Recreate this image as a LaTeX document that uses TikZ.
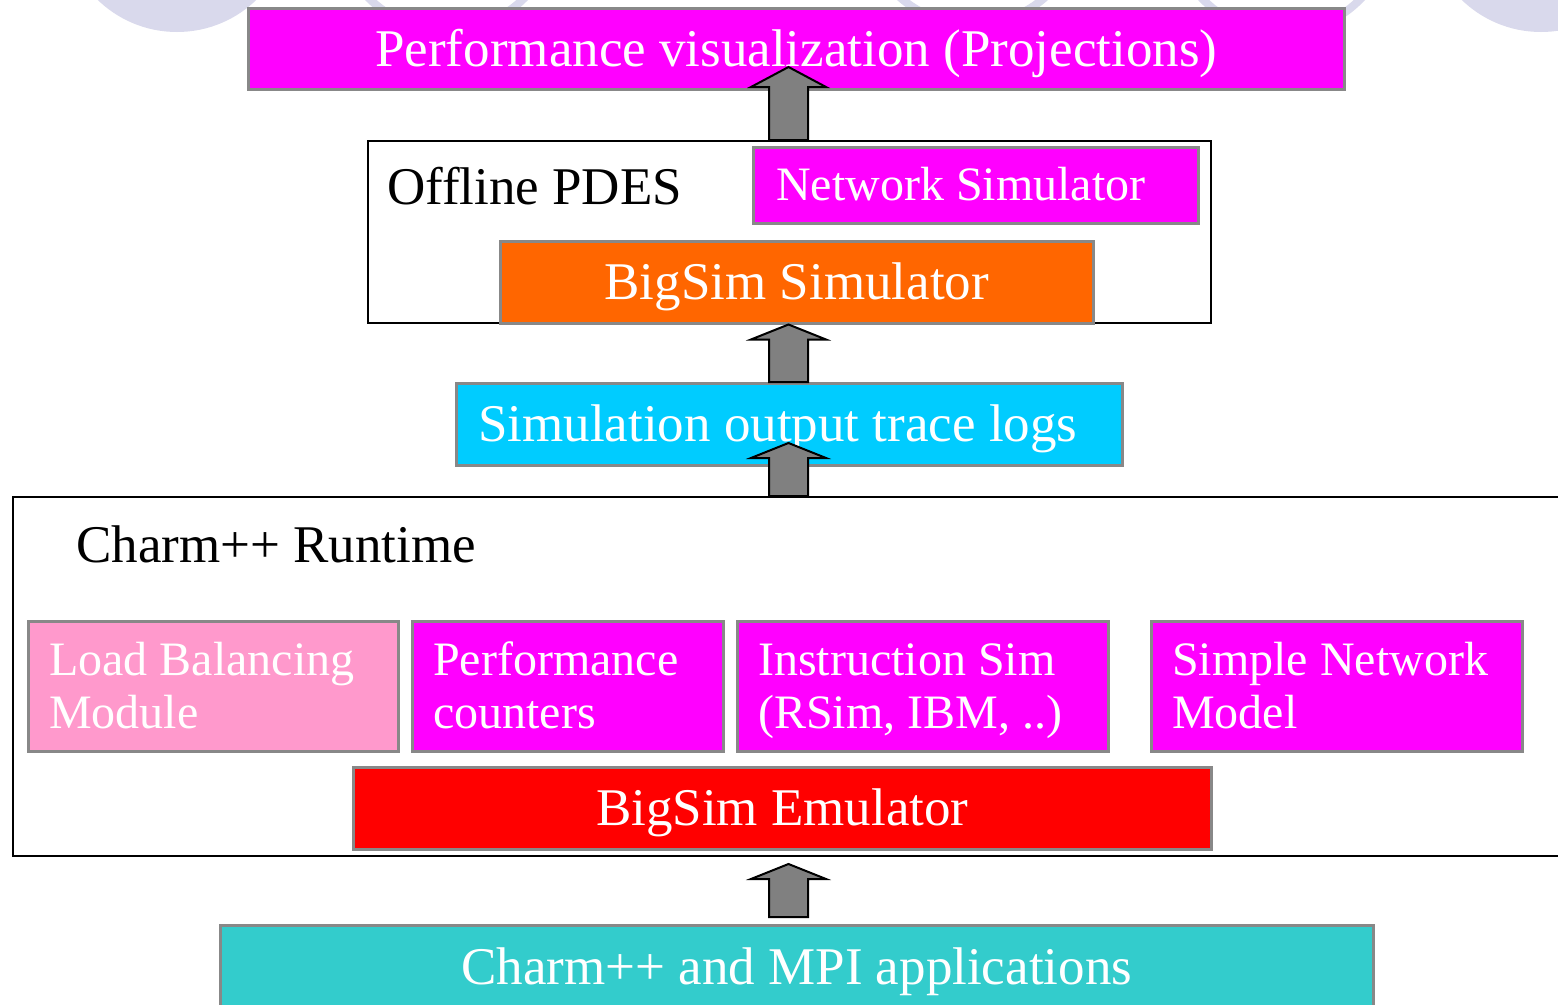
\documentclass[tikz,border=0pt]{standalone}
\usepackage{fontspec}
\setmainfont{Liberation Serif}
\usetikzlibrary{calc}
\definecolor{cmag}{HTML}{FF00FF}
\definecolor{corange}{HTML}{FF6600}
\definecolor{ccyan}{HTML}{00CCFF}
\definecolor{cpink}{HTML}{FF99CC}
\definecolor{cred}{HTML}{FF0000}
\definecolor{cteal}{HTML}{33CCCC}
\definecolor{cborder}{HTML}{888888}
\definecolor{carrow}{HTML}{808080}
\definecolor{clav}{HTML}{D9D9EC}
\newcommand\fbig{\fontsize{53}{58}\selectfont}
\newcommand\fsmall{\fontsize{48}{53}\selectfont}
\newcommand\blockarr[3]{%
  \draw[blockarr] ($(#1)+(-19.5,0)$) -- ($(#2)+(-19.5,-#3)$) -- ($(#2)+(-37.5,-#3)$) -- (#2)
    -- ($(#2)+(37.5,-#3)$) -- ($(#2)+(19.5,-#3)$) -- ($(#1)+(19.5,0)$) -- cycle;}
\tikzset{
  box/.style={draw=cborder, line width=2.5pt, inner sep=0pt, anchor=north west,
    text=white, font=\fbig, text height=34.7pt, text depth=0pt},
  twoline/.style={box, font=\fsmall, fill=cmag, inner xsep=21pt,
    minimum height=130pt, text height=31.4pt, text depth=53pt},
  frame/.style={draw=black, line width=2pt, fill=white, inner sep=0pt, anchor=north west},
  ttl/.style={anchor=base west, inner sep=0pt, font=\fbig, text=black},
  blockarr/.style={draw=black, line width=2pt, fill=carrow, line join=miter}
}
\begin{document}
\begin{tikzpicture}[x=1pt,y=1pt]
\clip (0,0) rectangle (1558,-1004);
\fill[white] (0,0) rectangle (1558,-1004);
% background circles
\fill[clav] (177,82) circle (114);
\fill[clav] (1541,82) circle (114);
\draw[clav, line width=8pt] (446.5,79.7) circle (110);
\draw[clav, line width=8pt] (972.5,85.4) circle (110);
\draw[clav, line width=8pt] (1281.5,77.6) circle (110);

% top
\node[box, fill=cmag, minimum width=1096pt, minimum height=81pt] (viz) at (247,-7)
  {Performance visualization (Projections)};

% offline PDES
\node[frame, minimum width=843pt, minimum height=182pt] (pdes) at (367,-140) {};
\node[ttl] (pdest) at (387,-204) {Offline PDES};
\node[box, fill=cmag, font=\fsmall, text height=31.4pt, inner xsep=23pt,
  minimum height=76pt] (netsim) at (752,-146) {\makebox[399pt][l]{Network Simulator}};
\node[box, fill=corange, minimum width=593pt, minimum height=82pt] (bss) at (499,-240)
  {BigSim Simulator};

% trace logs
\node[box, fill=ccyan, inner xsep=22pt, minimum height=82pt]
  (logs) at (455,-382) {\makebox[622pt][l]{Simulation output trace logs}};

% Charm++ runtime
\node[frame, minimum width=1590pt, minimum height=359pt] (rt) at (12,-496) {};
\node[ttl] (rtt) at (76,-562) {Charm++ Runtime};
\node[twoline, fill=cpink] (lb) at (27,-620) {\parbox[t]{328pt}{Load Balancing\\Module}};
\node[twoline] (pc) at (411,-620) {\parbox[t]{269pt}{Performance\\counters}};
\node[twoline] (is) at (736,-620) {\parbox[t]{329pt}{Instruction Sim\\(RSim, IBM, ..)}};
\node[twoline] (snm) at (1150,-620) {\parbox[t]{329pt}{Simple Network\\Model}};
\node[box, fill=cred, minimum width=858pt, minimum height=82pt] (emu) at (352,-766)
  {BigSim Emulator};

% applications
\node[box, fill=cteal, minimum width=1153pt, minimum height=84pt] (apps) at (219,-924)
  {Charm++ and MPI applications};

% arrows
\coordinate (ax) at (788.5,0);
\coordinate (b1) at (ax |- pdes.north);
\coordinate (t1) at (788.5,-67);
\coordinate (b2) at (ax |- logs.north);
\coordinate (t2) at (ax |- bss.south);
\coordinate (b3) at (ax |- rt.north);
\coordinate (t3) at (788.5,-443);
\coordinate (b4) at (788.5,-917);
\coordinate (t4) at (788.5,-864);
\blockarr{b1}{t1}{20}
\blockarr{b2}{t2}{15}
\blockarr{b3}{t3}{15}
\blockarr{b4}{t4}{15}
\end{tikzpicture}
\end{document}
